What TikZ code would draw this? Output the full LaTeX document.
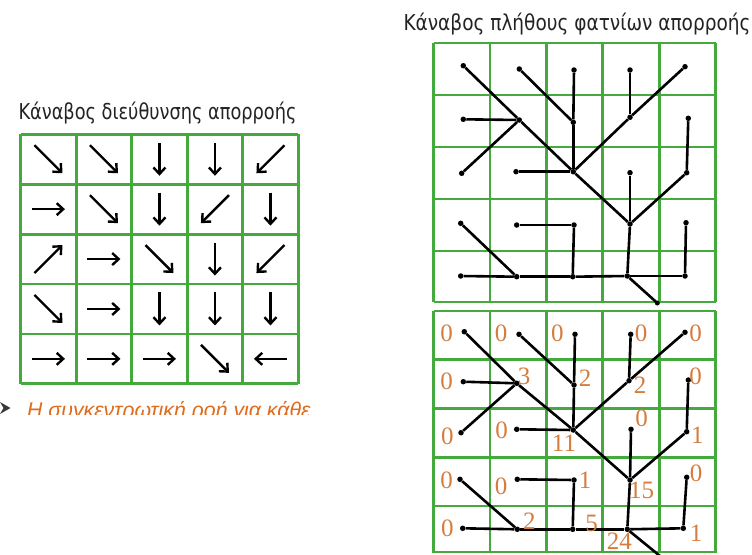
\documentclass[tikz,border=0pt]{standalone}
\usepackage{fontspec}
\setmainfont{DejaVu Sans}
\newfontfamily\numfont{Liberation Serif}
\newfontfamily\itfont{Liberation Sans}
\usetikzlibrary{arrows.meta}
\definecolor{gridgreen}{RGB}{68,170,62}
\definecolor{numorange}{RGB}{212,125,62}
\definecolor{textorange}{RGB}{222,108,30}
\definecolor{titlegray}{RGB}{35,35,35}
\tikzset{
  gridline/.style={gridgreen, line width=2.8pt},
  flowarrow/.style={line width=2.4pt, -{Straight Barb[length=6.5pt,width=12pt,line width=2.4pt]}},
  dot/.style={circle, fill=black, inner sep=0pt, minimum size=5.5pt},
  treeline/.style={line width=2.6pt},
  title/.style={font=\fontsize{20}{22}\selectfont, text=titlegray, inner sep=0pt, anchor=base west},
  count/.style={font=\numfont\fontsize{25}{28}\selectfont, text=numorange, inner sep=0pt},
}
\begin{document}
\begin{tikzpicture}[x=1pt,y=-1pt]
\useasboundingbox (0,0) rectangle (752,554);

% ---------- titles ----------
\node[title] (tleft) at (18.3,119.3) {\resizebox{278pt}{17.5pt}{Κάναβος διεύθυνσης απορροής}};
\node[title] (tright) at (403.3,30) {\resizebox{347pt}{17.5pt}{Κάναβος πλήθους φατνίων απορροής}};

% ---------- left grid (flow direction) ----------
\foreach \x in {20.7,76.2,131.7,187.2,242.7,298.2}
  \draw[gridline] (\x,134.3) -- (\x,384);
\foreach \y in {134.3,184.2,234.1,284.0,333.9,383.8}
  \draw[gridline] (20.7,\y) -- (298.2,\y);

\foreach \c/\r/\dx/\dy in {1/1/1/1, 2/1/1/1, 3/1/0/1, 4/1/0/1, 5/1/-1/1,
                           1/2/1/0, 2/2/1/1, 3/2/0/1, 4/2/-1/1, 5/2/0/1,
                           1/3/1/-1, 2/3/1/0, 3/3/1/1, 4/3/0/1, 5/3/-1/1,
                           1/4/1/1, 2/4/1/0, 3/4/0/1, 4/4/0/1, 5/4/0/1,
                           1/5/1/0, 2/5/1/0, 3/5/1/0, 4/5/1/1, 5/5/-1/0}{
  \pgfmathsetmacro\h{(\dx*\dy==0) ? 16.5 : 14}
  \pgfmathsetmacro\cx{20.7+55.5*(\c-0.5)}
  \pgfmathsetmacro\cy{134.3+49.9*(\r-0.5)}
  \draw[flowarrow] ({\cx-\dx*\h},{\cy-\dy*\h}) -- ({\cx+\dx*\h},{\cy+\dy*\h});
}

% bottom clipped text
\begin{scope}
  \clip (0,395) rectangle (330,414.5);
  \fill[gray!45!black] (0,402) -- (10.5,408) -- (0,414) -- (3.5,408) -- cycle;
  \node[font=\itfont\itshape\fontsize{21.3}{24}\selectfont, text=textorange, inner sep=0pt, anchor=base west] (bullettext) at (27,417.5) {Η συγκεντρωτική ροή για κάθε};
\end{scope}

% ---------- right grids ----------
\foreach \x in {433.5,489.9,546.3,602.7,659.1,715.5}{
  \draw[gridline] (\x,43) -- (\x,302);
  \draw[gridline] (\x,311) -- (\x,552.5);
}
\foreach \y in {43,95,147,199,251,302}
  \draw[gridline] (433.5,\y) -- (715.5,\y);
\foreach \y in {311,359.5,408.3,457.1,505.9,552}
  \draw[gridline] (433.5,\y) -- (715.5,\y);

% upper tree dots
\foreach \n/\x/\y in {11/463.3/65.7, 12/519.3/69, 13/574/70, 14/630/70, 15/685/66.7,
                      21/463.3/119.3, 22/519.3/120, 23/573.3/122.3, 24/630/117.3, 25/688.3/118.3,
                      31/461.7/173.3, 32/516/171.7, 33/573.3/171.7, 34/630/172.7, 35/686.7/172.7,
                      41/460.7/223.3, 42/516.7/225, 43/574/225, 44/630/224, 45/686/222.7,
                      51/460.7/276, 52/516.7/276.7, 53/572.7/276.7, 54/627.3/276, 55/685/276}
  \node[dot] (u\n) at (\x,\y) {};
\coordinate (uout) at (657.3,303);

% lower tree dots
\foreach \n/\x/\y in {11/464.3/331.7, 12/519/334.3, 13/575/334.3, 14/630.7/334.3, 15/685/332.3,
                      21/463.3/381.7, 22/516.7/383.3, 23/574/385, 24/629/380.7, 25/688.3/380,
                      31/461/432.7, 32/516.7/429.3, 33/573.3/430, 34/631/429.3, 35/686.7/431.7,
                      41/460/479.3, 42/517.3/479.3, 43/574/480, 44/630/480, 45/686.7/477.3,
                      51/462.7/528.3, 52/517.3/529.3, 53/572.7/529.3, 54/627.3/529.3, 55/683.3/528.3}
  \node[dot] (l\n) at (\x,\y) {};
\coordinate (lout) at (660,556);

% tree connections (same drainage network in both grids)
\begin{scope}
  \clip (0,0) rectangle (752,554);
  \foreach \g in {u,l}{
    \foreach \a/\b in {11/22, 12/23, 13/23, 14/24, 15/24,
                       21/22, 22/33, 23/33, 24/33, 25/35,
                       31/22, 32/33, 33/44, 34/44, 35/44,
                       41/52, 42/43, 43/53, 44/54, 45/55,
                       51/52, 52/53, 53/54, 55/54}
      \draw[treeline] (\g\a) -- (\g\b);
    \draw[treeline] (\g54) -- (\g out);
  }
\end{scope}
\node[dot, minimum size=5pt] at (uout) {};

% flow accumulation counts
\foreach \n/\x/\y/\v in {11/446.7/333.3/0, 12/501/333.3/0, 13/557.3/333.3/0, 14/641/333.3/0, 15/695.5/333.3/0,
                         21/446.7/381.7/0, 22/524/376.7/3, 23/585/378.3/2, 24/640/385/2, 25/695.5/376.7/0,
                         31/447.3/436.7/0, 32/501.7/430/0, 33/564/443.3/11, 34/641.7/418.3/0, 35/697.3/435/1,
                         41/446.7/480/0, 42/501/486.7/0, 43/585/480/1, 44/641.7/490/15, 45/696/473.3/0,
                         51/447.3/528.3/0, 52/529.3/521.7/2, 53/591.7/523.3/5, 54/619.3/541.5/24, 55/696/533.3/1}
  \node[count] (n\n) at (\x,\y) {\v};

\end{tikzpicture}
\end{document}
